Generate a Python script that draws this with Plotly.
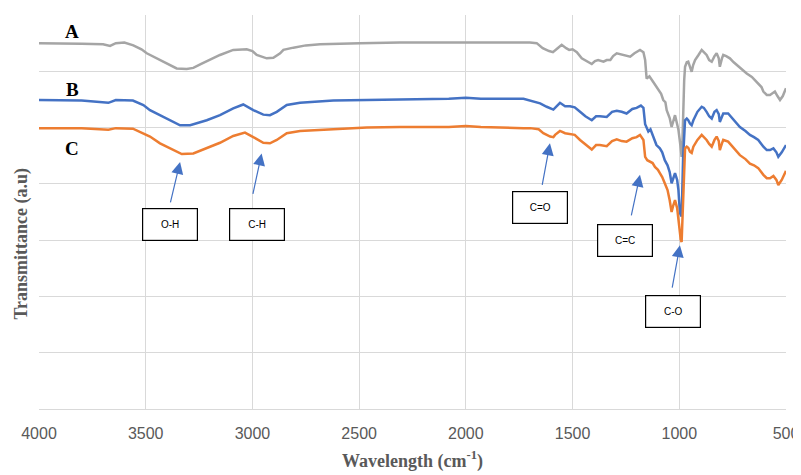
import plotly.graph_objects as go

# ---- Data (wavenumber cm^-1, transmittance a.u.) ----
wn_a = [4000, 3900, 3800, 3700, 3667, 3640, 3600, 3558, 3520, 3495, 3433, 3380, 3355, 3308, 3277,
        3240, 3214, 3152, 3090, 3027, 3000, 2980, 2933, 2902, 2870, 2855, 2808, 2750, 2683, 2600,
        2496, 2309, 2200, 2100, 2000, 1900, 1800, 1700, 1668, 1640, 1610, 1592, 1570, 1551, 1530,
        1516, 1500, 1480, 1457, 1430, 1410, 1395, 1380, 1355, 1340, 1323, 1310, 1293, 1262, 1230,
        1210, 1184, 1168, 1160, 1153, 1140, 1122, 1110, 1100, 1085, 1075, 1065, 1059, 1045, 1036,
        1028, 1020, 1010, 1004, 995, 989, 985, 981, 977, 973, 965, 958, 950, 942, 935, 926, 910,
        895, 885, 872, 860, 848, 835, 825, 815, 810, 800, 794, 780, 763, 745, 731, 710, 684, 660,
        645, 630, 615, 606, 590, 575, 560, 552, 540, 528, 515, 500]
t_a = [6.50, 6.50, 6.49, 6.48, 6.45, 6.50, 6.51, 6.46, 6.39, 6.32, 6.20, 6.09, 6.05, 6.04, 6.06,
       6.13, 6.18, 6.29, 6.38, 6.39, 6.36, 6.29, 6.23, 6.24, 6.32, 6.38, 6.42, 6.46, 6.48, 6.49,
       6.50, 6.51, 6.51, 6.51, 6.52, 6.51, 6.51, 6.51, 6.50, 6.41, 6.36, 6.34, 6.41, 6.47, 6.41,
       6.38, 6.39, 6.34, 6.23, 6.18, 6.13, 6.18, 6.20, 6.17, 6.20, 6.20, 6.27, 6.32, 6.29, 6.26,
       6.32, 6.38, 6.34, 6.20, 5.87, 5.91, 5.81, 5.74, 5.67, 5.60, 5.49, 5.45, 5.31, 5.17, 5.01,
       5.13, 5.22, 5.06, 4.96, 4.69, 4.48, 4.78, 5.49, 5.84, 6.08, 6.16, 6.17, 6.09, 5.99, 6.11,
       6.20, 6.29, 6.38, 6.34, 6.29, 6.20, 6.17, 6.27, 6.32, 6.23, 6.08, 6.23, 6.29, 6.27, 6.23,
       6.16, 6.11, 6.04, 5.96, 5.90, 5.84, 5.79, 5.72, 5.64, 5.58, 5.58, 5.63, 5.64, 5.56, 5.49,
       5.56, 5.70]

wn_b = [4000, 3800, 3675, 3640, 3560, 3511, 3480, 3418, 3339, 3292, 3214, 3152, 3090, 3043, 2996,
        2949, 2918, 2886, 2839, 2777, 2621, 2464, 2309, 2080, 2000, 1930, 1730, 1698, 1652, 1621,
        1590, 1559, 1535, 1512, 1490, 1465, 1440, 1410, 1390, 1372, 1340, 1315, 1293, 1270, 1247,
        1220, 1200, 1180, 1168, 1160, 1145, 1135, 1122, 1107, 1091, 1080, 1068, 1055, 1045, 1036,
        1028, 1020, 1010, 1004, 997, 989, 982, 977, 973, 965, 958, 950, 942, 934, 915, 895, 885,
        872, 860, 848, 835, 825, 815, 810, 800, 794, 771, 745, 716, 690, 669, 650, 630, 606, 590,
        575, 559, 545, 536, 520, 505, 500]
t_b = [5.49, 5.48, 5.44, 5.49, 5.48, 5.40, 5.31, 5.19, 5.04, 5.04, 5.13, 5.22, 5.34, 5.41, 5.31,
       5.23, 5.22, 5.28, 5.40, 5.44, 5.48, 5.49, 5.50, 5.51, 5.53, 5.51, 5.51, 5.48, 5.43, 5.37,
       5.32, 5.44, 5.38, 5.38, 5.36, 5.28, 5.20, 5.13, 5.20, 5.20, 5.19, 5.28, 5.30, 5.28, 5.25,
       5.33, 5.35, 5.39, 5.35, 5.06, 4.93, 4.97, 4.84, 4.69, 4.63, 4.56, 4.42, 4.33, 4.21, 4.01,
       4.10, 4.19, 4.07, 3.89, 3.48, 3.42, 4.48, 4.87, 5.13, 5.16, 5.13, 5.07, 5.04, 5.13, 5.28,
       5.37, 5.35, 5.28, 5.20, 5.16, 5.28, 5.31, 5.24, 5.10, 5.22, 5.25, 5.25, 5.13, 5.01, 4.94,
       4.87, 4.83, 4.78, 4.66, 4.60, 4.60, 4.63, 4.56, 4.48, 4.56, 4.66, 4.69]

wn_c = [4000, 3800, 3675, 3640, 3560, 3511, 3480, 3433, 3418, 3331, 3277, 3214, 3152, 3090, 3035,
        2996, 2949, 2918, 2886, 2839, 2777, 2621, 2464, 2309, 2080, 2000, 1930, 1730, 1698, 1659,
        1637, 1605, 1590, 1582, 1559, 1535, 1512, 1490, 1465, 1440, 1410, 1390, 1372, 1340, 1315,
        1293, 1270, 1247, 1220, 1200, 1184, 1168, 1160, 1150, 1138, 1125, 1114, 1100, 1091, 1080,
        1068, 1055, 1045, 1036, 1028, 1020, 1010, 1004, 993, 989, 982, 977, 973, 965, 958, 950,
        942, 934, 915, 895, 885, 872, 860, 848, 835, 825, 815, 810, 800, 794, 771, 745, 716, 690,
        669, 650, 630, 606, 590, 575, 559, 545, 536, 520, 505, 500]
t_c = [4.99, 4.99, 4.96, 4.99, 4.98, 4.90, 4.84, 4.72, 4.69, 4.53, 4.54, 4.63, 4.73, 4.85, 4.91,
       4.83, 4.73, 4.72, 4.78, 4.90, 4.94, 4.97, 5.00, 5.01, 5.01, 5.03, 5.01, 4.99, 4.99, 4.97,
       4.90, 4.84, 4.83, 4.87, 4.94, 4.90, 4.88, 4.87, 4.78, 4.71, 4.61, 4.69, 4.69, 4.67, 4.76,
       4.79, 4.76, 4.75, 4.81, 4.83, 4.87, 4.78, 4.48, 4.42, 4.39, 4.37, 4.30, 4.25, 4.19, 4.12,
       4.01, 3.89, 3.71, 3.50, 3.62, 3.71, 3.57, 3.36, 3.00, 2.97, 3.89, 4.33, 4.63, 4.66, 4.64,
       4.57, 4.55, 4.66, 4.78, 4.87, 4.83, 4.78, 4.71, 4.66, 4.78, 4.84, 4.76, 4.60, 4.72, 4.78,
       4.75, 4.64, 4.51, 4.44, 4.36, 4.33, 4.28, 4.16, 4.10, 4.10, 4.14, 4.07, 3.98, 4.07, 4.19,
       4.23]

x_ticks = [4000, 3500, 3000, 2500, 2000, 1500, 1000, 500]

series_names = ["A", "B", "C"]
series_colors = ["#A5A5A5", "#4472C4", "#ED7D31"]
label_y = [6.70, 5.67, 4.62]
label_x = 3845

# band assignments: label, arrow tip (wn, T), box centre (wn, T)
band_labels = ["O-H", "C-H", "C=O", "C=C", "C-O"]
tip_wn = [3339, 2957, 1606, 1184, 997]
tip_t = [4.39, 4.54, 4.72, 4.16, 2.91]
tail_dx = [-10, -9, -8, -9, -8]
tail_dy = [42, 42, 43, 42, 44]
box_wn = [3384, 2978, 1653, 1253, 1029]
box_t = [3.27, 3.27, 3.58, 2.99, 1.74]

fig = go.Figure()
for wn, t, c in zip([wn_a, wn_b, wn_c], [t_a, t_b, t_c], series_colors):
    fig.add_trace(go.Scatter(x=wn, y=t, mode="lines",
                             line=dict(color=c, width=2.5), showlegend=False,
                             hoverinfo="skip"))

ann = []
for name, ly in zip(series_names, label_y):
    ann.append(dict(x=label_x, y=ly, xref="x", yref="y", text="<b>%s</b>" % name,
                    showarrow=False, font=dict(family="Liberation Serif", size=19, color="black")))

for lab, tw, tt, dx, dy, bw, bt in zip(band_labels, tip_wn, tip_t, tail_dx, tail_dy, box_wn, box_t):
    ann.append(dict(x=tw, y=tt, xref="x", yref="y", ax=dx, ay=dy, text="",
                    showarrow=True, arrowhead=2, arrowsize=2, arrowwidth=1.2,
                    arrowcolor="#4472C4", standoff=0, startstandoff=0))
    ann.append(dict(x=bw, y=bt, xref="x", yref="y", text=lab, showarrow=False,
                    width=54, height=31, bordercolor="black", borderwidth=1.2, borderpad=0,
                    bgcolor="white", font=dict(family="Liberation Sans", size=10, color="black")))

ann.append(dict(x=0.5, y=-0.13, xref="paper", yref="paper", xanchor="center", yanchor="middle",
                text="<b>Wavelength (cm<sup>-1</sup>)</b>", showarrow=False,
                font=dict(family="Liberation Serif", size=18, color="#595959")))
ann.append(dict(x=-0.0232, y=0.419, xref="paper", yref="paper", xanchor="center",
                yanchor="middle", textangle=-90,
                text="<b>Transmittance (a.u)</b>", showarrow=False,
                font=dict(family="Liberation Serif", size=18, color="#595959")))

# page body has an 8px default margin, so the figure is sized to fill the rest of the window
fig.update_layout(
    width=793, height=467,
    margin=dict(l=31, r=15, t=7, b=66),
    paper_bgcolor="white", plot_bgcolor="white",
    annotations=ann,
    xaxis=dict(range=[4000, 500], tickvals=x_ticks, showgrid=True, gridcolor="#D9D9D9",
               gridwidth=1, zeroline=False, showline=True, linecolor="#D9D9D9", linewidth=1,
               ticks="", ticklabelstandoff=10, automargin=False,
               tickfont=dict(family="Liberation Sans", size=16, color="#595959")),
    yaxis=dict(range=[0, 7], dtick=1, showgrid=True, gridcolor="#D9D9D9", gridwidth=1,
               zeroline=False, showticklabels=False, ticks="", showline=False, automargin=False),
)

fig.write_html("out.html")
